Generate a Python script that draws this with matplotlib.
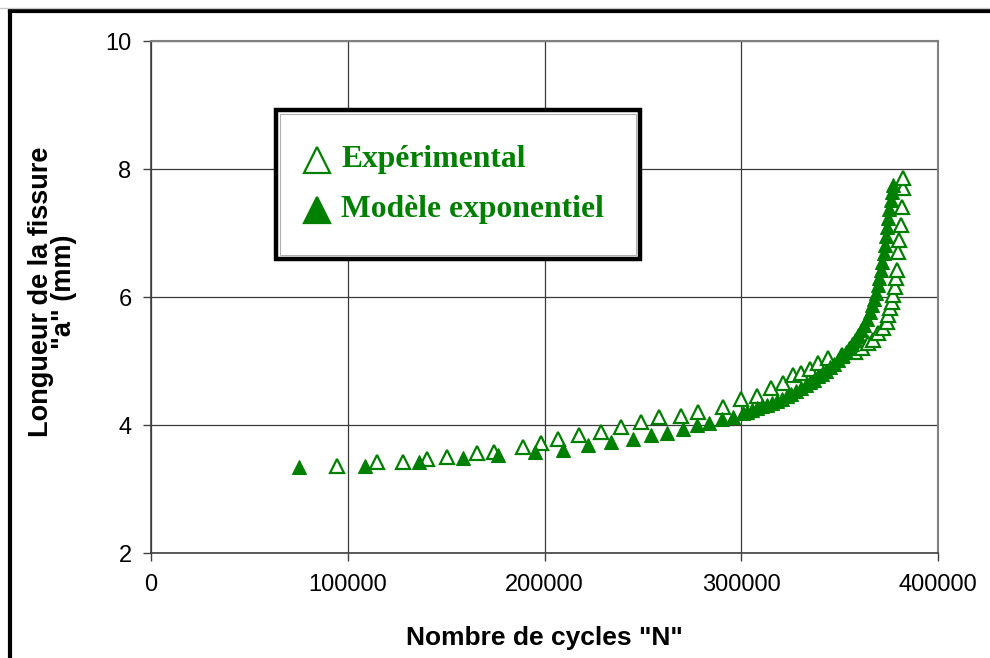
import matplotlib
matplotlib.use("Agg")
import matplotlib.pyplot as plt
from matplotlib.lines import Line2D
from matplotlib.patches import Rectangle

# Measured crack length vs number of cycles
exp_cycles = [94500, 114900, 128100, 140300, 150400, 165700, 174300, 189100, 198200,
              206800, 217500, 228700, 238900, 249000, 258200, 269400, 278000, 290700,
              299900, 308000, 315200, 321200, 326300, 330400, 335000, 339000, 344100,
              351000, 357800, 361400, 364400, 366900, 369500, 372100, 374200, 374700,
              375700, 376700, 377200, 378200, 378700, 379100, 379700, 380200, 381200,
              381700, 382200, 382200]
exp_length = [3.36, 3.42, 3.42, 3.47, 3.50, 3.56, 3.58, 3.66, 3.72,
              3.78, 3.84, 3.89, 3.97, 4.05, 4.12, 4.14, 4.20, 4.28,
              4.40, 4.45, 4.58, 4.66, 4.78, 4.81, 4.88, 4.97, 5.05,
              5.10, 5.14, 5.20, 5.28, 5.33, 5.44, 5.52, 5.61, 5.72,
              5.83, 5.92, 6.03, 6.16, 6.30, 6.42, 6.70, 6.89, 7.12,
              7.41, 7.70, 7.86]

# Exponential model predictions
mod_cycles = [75200, 108800, 136200, 158600, 176400, 195200, 209400, 222100, 233800,
              245000, 254100, 262300, 270400, 277500, 283600, 290200, 295800, 300900,
              303000, 305500, 308000, 310500, 313000, 315500, 318000, 320500, 323000,
              325500, 328000, 330500, 333000, 335000, 337000, 339000, 341000, 343000,
              345000, 347000, 349000, 351000, 353000, 355000, 356500, 358000, 359500,
              361000, 362500, 364000, 365400, 366500, 367500, 368500, 369400, 370200,
              371000, 371700, 372300, 372900, 373500, 374100, 374700, 375300, 375900,
              376400, 376900]
mod_length = [3.34, 3.36, 3.42, 3.49, 3.53, 3.58, 3.61, 3.69, 3.73,
              3.78, 3.84, 3.87, 3.94, 4.00, 4.03, 4.09, 4.13, 4.19,
              4.21, 4.24, 4.26, 4.29, 4.32, 4.35, 4.38, 4.41, 4.45,
              4.49, 4.53, 4.58, 4.63, 4.67, 4.71, 4.76, 4.80, 4.85,
              4.90, 4.96, 5.02, 5.08, 5.14, 5.20, 5.26, 5.33, 5.40,
              5.48, 5.56, 5.66, 5.77, 5.87, 5.97, 6.07, 6.18, 6.30,
              6.42, 6.55, 6.68, 6.82, 6.96, 7.10, 7.24, 7.38, 7.52,
              7.64, 7.75]

x_ticks = [0, 100000, 200000, 300000, 400000]
y_ticks = [2, 4, 6, 8, 10]
series_labels = ["Expérimental", "Modèle exponentiel"]

GREEN = "#008000"
W, H = 990, 658

fig = plt.figure(figsize=(W / 100, H / 100), dpi=100)
fig.patch.set_facecolor("white")
ax = fig.add_axes([151 / W, 1 - 553 / H, 787 / W, 512 / H])

ax.plot(exp_cycles, exp_length, linestyle="none", marker="^", markersize=10.5,
        markerfacecolor="white", markeredgecolor=GREEN, markeredgewidth=1.6, zorder=3)
ax.plot(mod_cycles, mod_length, linestyle="none", marker="^", markersize=10.5,
        markerfacecolor=GREEN, markeredgecolor=GREEN, markeredgewidth=0.8, zorder=4)

ax.set_xlim(0, 400000)
ax.set_ylim(2, 10)
ax.set_xticks(x_ticks)
ax.set_yticks(y_ticks)
ax.set_xticklabels([str(v) for v in x_ticks])
ax.set_yticklabels([str(v) for v in y_ticks])

for lab in ax.get_xticklabels() + ax.get_yticklabels():
    lab.set_fontfamily("Liberation Sans")
    lab.set_fontsize(17)
ax.tick_params(axis="both", direction="out", length=6, width=1, color="#404040")
ax.tick_params(axis="x", pad=9)
ax.tick_params(axis="y", pad=8)

ax.grid(True, color="#3a3a3a", linewidth=0.9)
ax.set_axisbelow(True)
for side in ("left", "bottom"):
    ax.spines[side].set_color("#404040")
    ax.spines[side].set_linewidth(1.2)
for side in ("top", "right"):
    ax.spines[side].set_color("#808080")
    ax.spines[side].set_linewidth(1.5)

ax.set_xlabel('Nombre de cycles "N"', fontfamily="Liberation Sans", fontweight="bold",
              fontsize=19, va="center")
ax.xaxis.set_label_coords(0.5, -0.166)
ax.set_ylabel('Longueur de la fissure\n"a" (mm)', fontfamily="Liberation Sans",
              fontweight="bold", fontsize=19.5, va="center", linespacing=0.85)
ax.yaxis.set_label_coords(-0.125, 0.51)

# Legend box
fig.patches.append(Rectangle((276 / W, 1 - 259 / H), 364 / W, 149 / H,
                             transform=fig.transFigure, facecolor="white",
                             edgecolor="black", linewidth=3.2, zorder=5))
fig.patches.append(Rectangle((280 / W, 1 - 255 / H), 356 / W, 141 / H,
                             transform=fig.transFigure, facecolor="none",
                             edgecolor="#b0b0b0", linewidth=0.8, zorder=5))
legend_rows = [(160, "white"), (210, GREEN)]
for (ypix, face), text in zip(legend_rows, series_labels):
    fig.add_artist(Line2D([317 / W], [1 - ypix / H], transform=fig.transFigure,
                          marker="^", markersize=19, markerfacecolor=face,
                          markeredgecolor=GREEN, markeredgewidth=1.6,
                          linestyle="none", zorder=6))
    fig.text(341 / W, 1 - ypix / H, text, color=GREEN, fontfamily="Liberation Serif",
             fontweight="bold", fontsize=22.8, va="center", ha="left", zorder=6)

# Outer frame
fig.add_artist(Line2D([10 / W, 10 / W], [1 - 11 / H, -0.05], transform=fig.transFigure,
                      color="black", linewidth=3))
fig.add_artist(Line2D([10 / W, 1.05], [1 - 11 / H, 1 - 11 / H], transform=fig.transFigure,
                      color="black", linewidth=3))
fig.add_artist(Line2D([0, 1.05], [1 - 7.5 / H, 1 - 7.5 / H], transform=fig.transFigure,
                      color="#c8c8c8", linewidth=1))

fig.savefig("out.png", dpi=100, facecolor="white")
